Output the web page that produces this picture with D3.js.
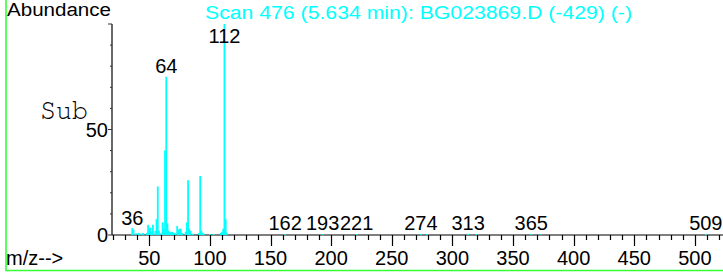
<!DOCTYPE html>
<meta charset="utf-8">
<head>
<title>Scan 476</title>
<style>
  body { margin: 0; background: #fff; }
  text { font-family: "Liberation Sans", Arial, sans-serif; }
  .lbl { font-size: 20px; fill: #000; }
  .cyan { fill: #00ffff; }
  .sub { font-family: "Nimbus Mono PS", FreeMono, "Liberation Serif", serif; font-size: 28px; }
</style>
</head>
<body>
<svg width="723" height="273"></svg>
<script src="https://d3js.org/d3.v7.min.js"></script>
<script>

// peak list: m/z and relative abundance (%)
var mz = [36, 37, 39, 41, 42, 44, 45, 48, 49, 50, 51, 52, 53, 55, 56, 57, 58, 60, 61, 62, 63, 64, 65, 66,
          67, 68, 69, 70, 71, 73, 74, 75, 76, 77, 80, 81, 82, 83, 84, 86, 91, 92, 93, 94, 95, 100, 103,
          109, 110, 111, 112, 113, 114, 162, 193, 221, 274, 279, 313, 320, 365, 373, 509];
var abund = [3.3, 2.5, 0.8, 1, 0.8, 0.7, 1, 1, 4.8, 3, 3.5, 1.5, 4.8, 2, 7.5, 23, 2, 1, 6, 3, 40, 75, 5.5, 2,
             1.5, 1.5, 1.5, 1, 1, 4.3, 2.5, 3, 3, 1, 1.5, 6, 26, 3, 2, 0.6, 1, 28, 2, 1, 0.6, 0.5, 0.5,
             1, 1.5, 3, 100, 7.5, 1, 0.5, 0.5, 0.5, 0.6, 0.5, 0.6, 0.4, 0.6, 0.4, 0.6];

// peaks that carry a label
var labelled = [36, 64, 112, 162, 193, 221, 274, 313, 365, 509];

var xMajor = [50, 100, 150, 200, 250, 300, 350, 400, 450, 500];
var xMinor = d3.range(20, 521, 10);
var yMinor = d3.range(0, 101, 10);
var yLabels = [0, 50];

var title = "Scan 476 (5.634 min): BG023869.D (-429) (-)";

var svg = d3.select("svg");

var x = d3.scaleLinear().domain([19.5, 524]).range([112.3, 724]);
var y = d3.scaleLinear().domain([0, 100]).range([235, 24]);

// green frame
svg.append("path")
    .attr("d", "M6,-2V270.5H730")
    .attr("fill", "none")
    .attr("stroke", "#33ff33")
    .attr("stroke-width", 1.6);

// header texts
svg.append("text").attr("class", "lbl")
    .attr("x", 7).attr("y", 16)
    .style("font-size", "18px")
    .attr("textLength", 104).attr("lengthAdjust", "spacingAndGlyphs")
    .text("Abundance");

svg.append("text").attr("class", "cyan")
    .attr("x", 205).attr("y", 19)
    .style("font-size", "18px")
    .attr("textLength", 427).attr("lengthAdjust", "spacingAndGlyphs")
    .text(title);

svg.append("text").attr("class", "sub")
    .attr("x", 40).attr("y", 119)
    .attr("textLength", 48).attr("lengthAdjust", "spacingAndGlyphs")
    .text("Sub");

// y axis
svg.append("line")
    .attr("x1", 112).attr("x2", 112)
    .attr("y1", y(100)).attr("y2", y(0))
    .attr("stroke", "#444").attr("stroke-width", 1.6);

svg.selectAll(".ytick").data(yMinor).enter().append("line")
    .attr("class", "ytick")
    .attr("x1", function(d) { return d % 50 == 0 ? 108 : 110; })
    .attr("x2", 112)
    .attr("y1", function(d) { return y(d); })
    .attr("y2", function(d) { return y(d); })
    .attr("stroke", "#333").attr("stroke-width", 1);

svg.selectAll(".ylab").data(yLabels).enter().append("text")
    .attr("class", "lbl ylab")
    .attr("x", 108)
    .attr("y", function(d) { return y(d) + 7; })
    .attr("text-anchor", "end")
    .text(function(d) { return d; });

// x axis
svg.append("line")
    .attr("x1", 112).attr("x2", 723)
    .attr("y1", y(0)).attr("y2", y(0))
    .attr("stroke", "#000").attr("stroke-width", 1.2);

svg.selectAll(".xtick").data(xMinor).enter().append("line")
    .attr("class", "xtick")
    .attr("x1", function(d) { return Math.round(x(d)) + 0.5; })
    .attr("x2", function(d) { return Math.round(x(d)) + 0.5; })
    .attr("y1", y(0))
    .attr("y2", function(d) { return d % 50 == 0 ? y(0) + 11 : y(0) + 5; })
    .attr("stroke", "#000").attr("stroke-width", 1.2);

svg.selectAll(".xlab").data(xMajor).enter().append("text")
    .attr("class", "lbl xlab")
    .attr("x", function(d) { return x(d); })
    .attr("y", 265)
    .attr("text-anchor", "middle")
    .text(function(d) { return d; });

svg.append("text").attr("class", "lbl")
    .attr("x", 6).attr("y", 265)
    .text("m/z-->");

// peaks
var peaks = mz.map(function(m, i) { return { mz: m, v: abund[i] }; });

svg.selectAll(".peak").data(peaks).enter().append("line")
    .attr("class", "peak")
    .attr("x1", function(d) { return x(d.mz); })
    .attr("x2", function(d) { return x(d.mz); })
    .attr("y1", y(0))
    .attr("y2", function(d) { return y(d.v); })
    .attr("stroke", "#00ffff").attr("stroke-width", 1.8);

// peak labels
svg.selectAll(".plab").data(peaks.filter(function(d) { return labelled.indexOf(d.mz) >= 0; }))
    .enter().append("text")
    .attr("class", "lbl plab")
    .attr("x", function(d) { return x(d.mz); })
    .attr("y", function(d) { return Math.max(y(d.v) - 3.5, 43); })
    .attr("text-anchor", "middle")
    .text(function(d) { return d.mz; });

</script>
</body>
